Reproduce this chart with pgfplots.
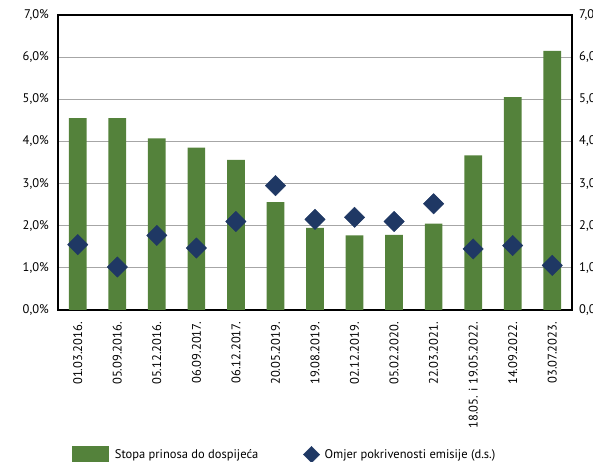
\documentclass[border=0pt]{standalone}
\usepackage{pgfplots}
\pgfplotsset{compat=1.18}
\usepackage{fontspec}
\setmainfont{PT Sans}
\definecolor{bargreen}{RGB}{84,130,59}
\definecolor{diablue}{RGB}{31,56,100}
\definecolor{gridgray}{RGB}{166,166,166}
\begin{document}
\begin{tikzpicture}[x=1pt,y=1pt]
\path[use as bounding box] (0,0) rectangle (593,462);
\clip (0,0) rectangle (593,462);
\begin{axis}[
  at={(58pt,152pt)}, anchor=south west,
  scale only axis, width=514pt, height=295pt,
  xmin=-0.5, xmax=12.5, ymin=0, ymax=7,
  xtick={0,...,12},
  xticklabels={01.03.2016.,05.09.2016.,05.12.2016.,06.09.2017.,06.12.2017.,20.05.2019.,19.08.2019.,02.12.2019.,05.02.2020.,22.03.2021.,18.05. i 19.05.2022.,14.09.2022.,03.07.2023.},
  xticklabel style={rotate=90, anchor=east, font=\fontsize{12.5}{14}\selectfont, inner xsep=12pt, inner ysep=2pt},
  ytick={0,...,7},
  yticklabel={\pgfmathprintnumber[fixed,fixed zerofill,precision=1,use comma]{\tick}\%},
  yticklabel style={font=\fontsize{12.5}{14}\selectfont, inner xsep=9pt},
  /pgf/number format/assume math mode=true,
  major tick length=0pt,
  ymajorgrids, grid style={gridgray, line width=1pt},
  axis line style={black, line width=1.2pt},
]
\addplot[ybar, bar width=17.7pt, fill=bargreen, draw=none] coordinates {
(0,4.55) (1,4.55) (2,4.07) (3,3.85) (4,3.56) (5,2.56) (6,1.95) (7,1.77) (8,1.78) (9,2.05) (10,3.67) (11,5.05) (12,6.15)};
\end{axis}
\begin{axis}[
  at={(58pt,152pt)}, anchor=south west,
  scale only axis, width=514pt, height=295pt,
  xmin=-0.5, xmax=12.5, ymin=0, ymax=7,
  axis x line=none, axis y line*=right,
  ytick={0,...,7},
  yticklabel={\pgfmathprintnumber[fixed,fixed zerofill,precision=1,use comma]{\tick}},
  yticklabel style={font=\fontsize{12.5}{14}\selectfont, inner xsep=7pt},
  /pgf/number format/assume math mode=true,
  major tick length=0pt,
  axis line style={black, line width=1.2pt},
  legend style={at={(axis description cs:0.026,-0.49)}, anchor=west, draw=none, fill=none, inner sep=0pt,
    legend columns=2, font=\fontsize{12.5}{14}\selectfont,
    /tikz/every even column/.append style={column sep=43pt}},
]
\addlegendimage{legend image code/.code={\fill[bargreen] (0pt,-8.5pt) rectangle (36pt,8.5pt); \path (41pt,0pt);}}
\addlegendentry{Stopa prinosa do dospijeća}
\addplot[only marks, mark=square*, mark size=7.2pt, mark options={rotate=45, fill=diablue, draw=diablue},
  legend image code/.code={\draw[diablue, fill=diablue, mark=square*, mark size=5.8pt, mark options={rotate=45}] plot coordinates {(8.2pt,0pt)};\path (19pt,0pt);}] coordinates {
(0,1.55) (1,1.02) (2,1.77) (3,1.47) (4,2.10) (5,2.95) (6,2.15) (7,2.20) (8,2.10) (9,2.52) (10,1.45) (11,1.53) (12,1.06)};
\addlegendentry{Omjer pokrivenosti emisije (d.s.)}
\end{axis}
\end{tikzpicture}
\end{document}
